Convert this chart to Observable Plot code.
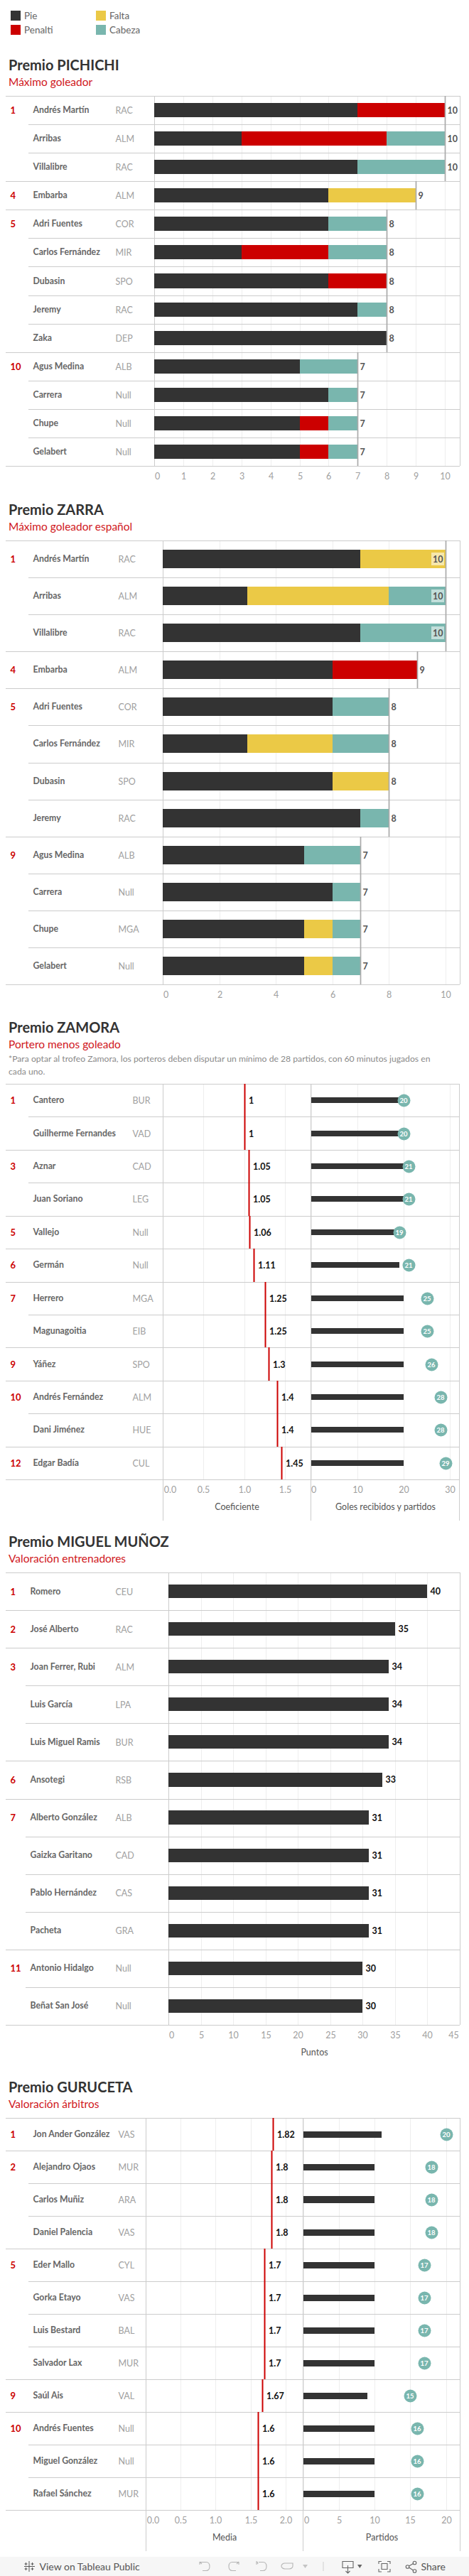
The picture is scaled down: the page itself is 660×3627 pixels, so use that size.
<!DOCTYPE html>
<html lang="es">
<head>
<meta charset="utf-8">
<title>Premios LaLiga 2</title>
<script src="https://cdn.jsdelivr.net/npm/d3@7"></script>
<script src="https://cdn.jsdelivr.net/npm/@observablehq/plot@0.6"></script>
<style>
html,body{margin:0;padding:0;background:#fff;}
#page{position:relative;width:660px;height:3627px;overflow:hidden;font-family:Lato,sans-serif;}
#page svg.plot,#page svg{position:absolute;background:transparent;max-width:none;}
.t{position:absolute;white-space:nowrap;line-height:1;}
.title{left:12px;font-size:20px;font-weight:700;color:#333;}
.sub{left:12px;font-size:15.5px;font-weight:400;color:#d0161b;}
.note{left:12px;font-size:12.2px;font-weight:400;color:#8a8a8a;}
.leg{font-size:13.5px;color:#666;}
.sw{position:absolute;width:14px;height:14px;}
#bar{position:absolute;left:0;top:3600px;width:660px;height:27px;background:#f6f6f6;}
</style>
</head>
<body>
<div id="page"></div>
<script>
// ---------- Leyenda ----------
const goalTypes = ["Pie", "Penalti", "Falta", "Cabeza"];
const goalColors = ["#333333", "#cc0000", "#ebc946", "#79b6ae"];

// ---------- Premio PICHICHI ----------
const pichichiRanks = [1, null, null, 4, 5, null, null, null, null, 10, null, null, null];
const pichichiNames = ["Andrés Martín", "Arribas", "Villalibre", "Embarba", "Adri Fuentes", "Carlos Fernández", "Dubasin", "Jeremy", "Zaka", "Agus Medina", "Carrera", "Chupe", "Gelabert"];
const pichichiTeams = ["RAC", "ALM", "RAC", "ALM", "COR", "MIR", "SPO", "RAC", "DEP", "ALB", "Null", "Null", "Null"];
const pichichiPie = [7, 3, 7, 6, 6, 3, 6, 7, 8, 5, 6, 5, 5];
const pichichiPenalti = [3, 5, 0, 0, 0, 3, 2, 0, 0, 0, 0, 1, 1];
const pichichiFalta = [0, 0, 0, 3, 0, 0, 0, 0, 0, 0, 0, 0, 0];
const pichichiCabeza = [0, 2, 3, 0, 2, 2, 0, 1, 0, 2, 1, 1, 1];
const pichichiTicks = [0, 1, 2, 3, 4, 5, 6, 7, 8, 9, 10];

// ---------- Premio ZARRA ----------
const zarraRanks = [1, null, null, 4, 5, null, null, null, 9, null, null, null];
const zarraNames = ["Andrés Martín", "Arribas", "Villalibre", "Embarba", "Adri Fuentes", "Carlos Fernández", "Dubasin", "Jeremy", "Agus Medina", "Carrera", "Chupe", "Gelabert"];
const zarraTeams = ["RAC", "ALM", "RAC", "ALM", "COR", "MIR", "SPO", "RAC", "ALB", "Null", "MGA", "Null"];
const zarraPie = [7, 3, 7, 6, 6, 3, 6, 7, 5, 6, 5, 5];
const zarraPenalti = [0, 0, 0, 3, 0, 0, 0, 0, 0, 0, 0, 0];
const zarraFalta = [3, 5, 0, 0, 0, 3, 2, 0, 0, 0, 1, 1];
const zarraCabeza = [0, 2, 3, 0, 2, 2, 0, 1, 2, 1, 1, 1];
const zarraTicks = [0, 2, 4, 6, 8, 10];

// ---------- Premio ZAMORA ----------
const zamoraRanks = [1, null, 3, null, 5, 6, 7, null, 9, 10, null, 12];
const zamoraNames = ["Cantero", "Guilherme Fernandes", "Aznar", "Juan Soriano", "Vallejo", "Germán", "Herrero", "Magunagoitia", "Yáñez", "Andrés Fernández", "Dani Jiménez", "Edgar Badía"];
const zamoraTeams = ["BUR", "VAD", "CAD", "LEG", "Null", "Null", "MGA", "EIB", "SPO", "ALM", "HUE", "CUL"];
const zamoraCoef = [1, 1, 1.05, 1.05, 1.06, 1.11, 1.25, 1.25, 1.3, 1.4, 1.4, 1.45];
const zamoraGoles = [20, 20, 20, 20, 20, 19, 20, 20, 20, 20, 20, 20];
const zamoraPartidos = [20, 20, 21, 21, 19, 21, 25, 25, 26, 28, 28, 29];
const zamoraCoefTicks = [0, 0.5, 1, 1.5];
const zamoraGolesTicks = [0, 10, 20, 30];

// ---------- Premio MIGUEL MUÑOZ ----------
const munozRanks = [1, 2, 3, null, null, 6, 7, null, null, null, 11, null];
const munozNames = ["Romero", "José Alberto", "Joan Ferrer, Rubi", "Luis García", "Luis Miguel Ramis", "Ansotegi", "Alberto González", "Gaizka Garitano", "Pablo Hernández", "Pacheta", "Antonio Hidalgo", "Beñat San José"];
const munozTeams = ["CEU", "RAC", "ALM", "LPA", "BUR", "RSB", "ALB", "CAD", "CAS", "GRA", "Null", "Null"];
const munozPuntos = [40, 35, 34, 34, 34, 33, 31, 31, 31, 31, 30, 30];
const munozTicks = [0, 5, 10, 15, 20, 25, 30, 35, 40, 45];

// ---------- Premio GURUCETA ----------
const gurucetaRanks = [1, 2, null, null, 5, null, null, null, 9, 10, null, null];
const gurucetaNames = ["Jon Ander González", "Alejandro Ojaos", "Carlos Muñiz", "Daniel Palencia", "Eder Mallo", "Gorka Etayo", "Luis Bestard", "Salvador Lax", "Saúl Ais", "Andrés Fuentes", "Miguel González", "Rafael Sánchez"];
const gurucetaTeams = ["VAS", "MUR", "ARA", "VAS", "CYL", "VAS", "BAL", "MUR", "VAL", "Null", "Null", "MUR"];
const gurucetaMedia = [1.82, 1.8, 1.8, 1.8, 1.7, 1.7, 1.7, 1.7, 1.67, 1.6, 1.6, 1.6];
const gurucetaBarras = [11, 10, 10, 10, 10, 10, 10, 10, 9, 10, 10, 10];
const gurucetaPartidos = [20, 18, 18, 18, 17, 17, 17, 17, 15, 16, 16, 16];
const gurucetaMediaTicks = [0, 0.5, 1, 1.5, 2];
const gurucetaBarTicks = [0, 5, 10, 15, 20];

// ---------- Estilos ----------
const FONT = "Lato, sans-serif";
const RED = "#cc0000", LINE = "#cccccc", GRID = "#eeeeee", DARK = "#333333", TEAL = "#79b6ae", TOTAL = "#aaaaaa";
const page = document.getElementById("page");

function addText(cls, text, top, left) {
  const d = document.createElement("div");
  d.className = "t " + cls;
  d.textContent = text;
  d.style.top = top + "px";
  if (left != null) d.style.left = left + "px";
  page.appendChild(d);
  return d;
}
function addHead(title, sub, yT, yS) {
  addText("title", title, yT - 10);
  addText("sub", sub, yS - 8);
}

// Un panel: escala x e y propias, colocado en la página
function panel({svgLeft = 0, x0, x1, xMax, top, bodyH, n, below, marks}) {
  const marginLeft = x0 - svgLeft;
  const chart = Plot.plot({
    width: x1 + 1 - svgLeft,
    height: 1 + bodyH + below,
    marginLeft, marginRight: 1, marginTop: 1, marginBottom: below,
    style: {fontFamily: FONT, background: "transparent", overflow: "visible"},
    x: {domain: [0, xMax], axis: null, round: true},
    y: {domain: [0, n], range: [1, 1 + bodyH], axis: null, round: true},
    color: {domain: goalTypes, range: goalColors},
    marks
  });
  chart.style.left = svgLeft + "px";
  chart.style.top = (top - 1) + "px";
  page.appendChild(chart);
}

// Rejilla vertical y eje inferior con etiquetas desplazadas en los extremos
function gridAxis(ticks, n, shift = {}, fmt = d => String(d)) {
  const plain = ticks.filter(t => !(t in shift));
  const style = {anchor: "bottom", tickSize: 0, tickPadding: 10, label: null, tickFormat: fmt, fontSize: 12.5, fontWeight: 400, color: "#a0a0a0"};
  return [
    Plot.ruleX(ticks, {y1: 0, y2: n, stroke: GRID}),
    Plot.axisX(plain, style),
    ...Object.keys(shift).map(k => Plot.axisX([+k], {...style, dx: shift[k]}))
  ];
}
function separators(n, ranks, fullInset, indentInset) {
  const starts = d3.range(n).filter(i => ranks && ranks[i] != null).concat([n]);
  const rest = d3.range(n).filter(i => !starts.includes(i));
  return [
    Plot.ruleY(starts, {stroke: LINE, insetLeft: -fullInset}),
    Plot.ruleY(rest, {stroke: LINE, insetLeft: -indentInset})
  ];
}
function labelMarks(names, teams, ranks, x0, nameX, teamX) {
  const rows = names.map((name, i) => ({i, name, team: teams[i], rank: ranks[i]}));
  const base = {y: d => d.i + 0.5, frameAnchor: "left", textAnchor: "start"};
  return [
    Plot.text(rows.filter(d => d.rank != null), {...base, text: d => String(d.rank), dx: 14 - x0, fill: RED, fontWeight: 700, fontSize: 13}),
    Plot.text(rows, {...base, text: "name", dx: nameX - x0, fill: "#666666", fontWeight: 700, fontSize: 12.3}),
    Plot.text(rows, {...base, text: "team", dx: teamX - x0, fill: "#a0a0a0", fontWeight: 400, fontSize: 12.5})
  ];
}
function axisTitle(label) {
  return Plot.text([label], {frameAnchor: "bottom", text: d => d, dy: 42, fill: "#555555", fontSize: 12.5});
}
function segments(series) {
  return goalTypes.flatMap(type => series[type].map((v, i) => ({i, type, v}))).filter(d => d.v > 0);
}

// ---------- Leyenda ----------
[["Pie", 15, 15, 34], ["Penalti", 15, 35, 34], ["Falta", 135, 15, 154], ["Cabeza", 135, 35, 154]].forEach(([name, sx, sy, tx]) => {
  const s = document.createElement("div");
  s.className = "sw";
  s.style.left = sx + "px"; s.style.top = sy + "px";
  s.style.background = goalColors[goalTypes.indexOf(name)];
  page.appendChild(s);
  addText("leg", name, sy + 0.5, tx);
});

// ---------- PICHICHI ----------
addHead("Premio PICHICHI", "Máximo goleador", 91, 116);
{
  const n = pichichiNames.length, x0 = 217;
  const segs = segments({Pie: pichichiPie, Penalti: pichichiPenalti, Falta: pichichiFalta, Cabeza: pichichiCabeza});
  const totals = pichichiPie.map((p, i) => ({i, v: p + pichichiPenalti[i] + pichichiFalta[i] + pichichiCabeza[i]}));
  panel({x0, x1: 647, xMax: 10.51, top: 135, bodyH: 521, n, below: 26, marks: [
    ...gridAxis(pichichiTicks, n, {0: 4}),
    ...separators(n, pichichiRanks, x0 - 8, x0 - 40),
    Plot.ruleX([0, 10.51], {y1: 0, y2: n, stroke: LINE}),
    Plot.rectX(segs, {x: "v", y1: d => d.i + 0.25, y2: d => d.i + 0.75, fill: "type"}),
    Plot.ruleX(totals, {x: "v", y1: d => d.i, y2: d => d.i + 1, stroke: TOTAL, strokeWidth: 1.7}),
    Plot.text(totals, {x: "v", y: d => d.i + 0.5, text: d => String(d.v), dx: 3, textAnchor: "start", fill: "#555555", fontWeight: 700, fontSize: 12.5}),
    ...labelMarks(pichichiNames, pichichiTeams, pichichiRanks, x0, 46, 162)
  ]});
}

// ---------- ZARRA ----------
addHead("Premio ZARRA", "Máximo goleador español", 717, 742);
{
  const n = zarraNames.length, x0 = 229;
  const segs = segments({Pie: zarraPie, Penalti: zarraPenalti, Falta: zarraFalta, Cabeza: zarraCabeza});
  const totals = zarraPie.map((p, i) => ({i, v: p + zarraPenalti[i] + zarraFalta[i] + zarraCabeza[i]}));
  const outside = totals.filter(d => d.v < 10), inside = totals.filter(d => d.v >= 10);
  panel({x0, x1: 647, xMax: 10.51, top: 761, bodyH: 625, n, below: 26, marks: [
    ...gridAxis(zarraTicks, n, {0: 4}),
    ...separators(n, zarraRanks, x0 - 8, x0 - 40),
    Plot.ruleX([0, 10.51], {y1: 0, y2: n, stroke: LINE}),
    Plot.rectX(segs, {x: "v", y1: d => d.i + 0.25, y2: d => d.i + 0.75, fill: "type"}),
    Plot.ruleX(totals, {x: "v", y1: d => d.i, y2: d => d.i + 1, stroke: TOTAL, strokeWidth: 1.7}),
    Plot.rect(inside, {x1: d => d.v - 0.5, x2: d => d.v - 0.05, y1: d => d.i + 0.33, y2: d => d.i + 0.67, fill: "#ffffff", fillOpacity: 0.55}),
    Plot.text(outside, {x: "v", y: d => d.i + 0.5, text: d => String(d.v), dx: 3, textAnchor: "start", fill: "#555555", fontWeight: 700, fontSize: 12.5}),
    Plot.text(inside, {x: "v", y: d => d.i + 0.5, text: d => String(d.v), dx: -4, textAnchor: "end", fill: "#555555", fontWeight: 700, fontSize: 12.5}),
    ...labelMarks(zarraNames, zarraTeams, zarraRanks, x0, 46, 166)
  ]});
}

// Panel doble: coeficiente y barra con círculo
function doublePanel({names, teams, ranks, coef, bars, dots, top, bodyH, x0, xMid, xMidR, x1, xMaxL, xMaxR, ticksL, ticksR, shiftL, shiftR, titleL, titleR, teamX, barH}) {
  const n = names.length;
  const ext = 58 / (bodyH / n);
  const c = coef.map((v, i) => ({i, v}));
  const b = bars.map((v, i) => ({i, v, d: dots[i]}));
  const half = barH / 2 / (bodyH / n);
  panel({x0, x1: xMid, xMax: xMaxL, top, bodyH, n, below: 60, marks: [
    ...gridAxis(ticksL, n, shiftL, d => d.toFixed(1)),
    ...separators(n, ranks, x0 - 8, x0 - 40),
    Plot.ruleX([0], {y1: 0, y2: n + ext, stroke: LINE}),
    Plot.ruleX(c, {x: "v", y1: d => d.i, y2: d => d.i + 1, stroke: RED, strokeWidth: 2}),
    Plot.text(c, {x: "v", y: d => d.i + 0.5, text: d => String(d.v), dx: 5.5, textAnchor: "start", fill: "#111111", fontWeight: 700, fontSize: 12.5}),
    ...labelMarks(names, teams, ranks, x0, 46, teamX),
    axisTitle(titleL)
  ]});
  panel({svgLeft: xMid - 1, x0: xMidR, x1, xMax: xMaxR, top, bodyH, n, below: 60, marks: [
    ...gridAxis(ticksR, n, shiftR),
    Plot.ruleY(d3.range(n + 1), {stroke: LINE, insetLeft: -(xMidR - xMid)}),
    Plot.ruleX([0], {y1: 0, y2: n + ext, stroke: LINE, dx: xMid - xMidR}),
    Plot.ruleX([xMaxR], {y1: 0, y2: n + ext, stroke: LINE}),
    Plot.rectX(b, {x: "v", y1: d => d.i + 0.5 - half, y2: d => d.i + 0.5 + half, fill: DARK}),
    Plot.dot(b, {x: "d", y: d => d.i + 0.5, r: 9, fill: TEAL, stroke: "none"}),
    Plot.text(b, {x: "d", y: d => d.i + 0.5, text: d => String(d.d), fill: "#ffffff", fontSize: 9.5, fontWeight: 700, dx: -0.5}),
    axisTitle(titleR)
  ]});
}

// ---------- ZAMORA ----------
addHead("Premio ZAMORA", "Portero menos goleado", 1446, 1471);
addText("note", "*Para optar al trofeo Zamora, los porteros deben disputar un mínimo de 28 partidos, con 60 minutos jugados en", 1485);
addText("note", "cada uno.", 1503);
doublePanel({names: zamoraNames, teams: zamoraTeams, ranks: zamoraRanks, coef: zamoraCoef, bars: zamoraGoles, dots: zamoraPartidos,
  top: 1526, bodyH: 557, x0: 229, xMid: 437, xMidR: 438, x1: 646, xMaxL: 1.81, xMaxR: 31.95,
  ticksL: zamoraCoefTicks, ticksR: zamoraGolesTicks, shiftL: {0: 10}, shiftR: {0: 3},
  titleL: "Coeficiente", titleR: "Goles recibidos y partidos", teamX: 186, barH: 8});

// ---------- MIGUEL MUÑOZ ----------
addHead("Premio MIGUEL MUÑOZ", "Valoración entrenadores", 2170, 2195);
{
  const n = munozNames.length, x0 = 237;
  const rows = munozPuntos.map((v, i) => ({i, v}));
  panel({x0, x1: 647, xMax: 45, top: 2214, bodyH: 637, n, below: 52, marks: [
    ...gridAxis(munozTicks, n, {0: 4, 45: -9}),
    ...separators(n, munozRanks, x0 - 8, x0 - 36),
    Plot.ruleX([0, 45], {y1: 0, y2: n, stroke: LINE}),
    Plot.rectX(rows, {x: "v", y1: d => d.i + 0.32, y2: d => d.i + 0.68, fill: DARK}),
    Plot.text(rows, {x: "v", y: d => d.i + 0.49, text: d => String(d.v), dx: 4, textAnchor: "start", fill: "#111111", fontWeight: 700, fontSize: 12.5}),
    ...labelMarks(munozNames, munozTeams, munozRanks, x0, 42, 162),
    axisTitle("Puntos")
  ]});
}

// ---------- GURUCETA ----------
addHead("Premio GURUCETA", "Valoración árbitros", 2938, 2963);
doublePanel({names: gurucetaNames, teams: gurucetaTeams, ranks: gurucetaRanks, coef: gurucetaMedia, bars: gurucetaBarras, dots: gurucetaPartidos,
  top: 2982, bodyH: 552, x0: 205, xMid: 426, xMidR: 427, x1: 647, xMaxL: 2.245, xMaxR: 21.94,
  ticksL: gurucetaMediaTicks, ticksR: gurucetaBarTicks, shiftL: {0: 10}, shiftR: {0: 4},
  titleL: "Media", titleR: "Partidos", teamX: 166, barH: 9});

// ---------- Barra inferior ----------
const bar = document.createElement("div");
bar.id = "bar";
bar.innerHTML = `
<svg width="660" height="27" viewBox="0 0 660 27" style="left:0;top:0" fill="none">
  <g stroke="#555" stroke-width="1">
    <path d="M41 6v15M34 13.5h15M36.500 8v4M34.500 10h4M45.500 8v4M43.500 10h4M36.500 15v4M34.500 17h4M45.500 15v4M43.500 17h4"/>
  </g>
  <g stroke="#b5b5b5" stroke-width="1.1">
    <path d="M281 7l3 3M281 7v4M282 7.500h8c4 0 5 3 5 6s-1 6-5 6h-5"/>
    <path d="M336 7l-3 3M336 7v4M335 7.500h-8c-4 0-5 3-5 6s1 6 5 6h5"/>
    <path d="M361 6v5M363 10l-1-3M364 7.500h6c4 0 5 3 5 6s-1 6-5 6h-4"/>
    <path d="M412 10v-1h-11c-3 0-5 2-5 4s2 4 5 4h6c3 0 5-2 5-4z"/>
  </g>
  <path d="M426 11h7l-3.500 5z" fill="#c4c4c4"/>
  <path d="M455 7v13" stroke="#cfcfcf"/>
  <g stroke="#666" stroke-width="1.1">
    <path d="M482 6.500h15v9h-15zM489.500 12v11M486.500 20l3 3 3-3"/>
    <path d="M533 10V6.500h4M549 10V6.500h-4M533 17v4h4M549 17v4h-4M537 9.500h8v8h-8z"/>
    <circle cx="573.500" cy="14" r="2.300"/><circle cx="583.500" cy="8.500" r="2.300"/><circle cx="583.500" cy="20" r="2.300"/>
    <path d="M575.500 13l6-3.500M575.500 15l6 4"/>
  </g>
  <path d="M503 11h6.500l-3.250 5z" fill="#666"/>
</svg>`;
page.appendChild(bar);
const tb = document.createElement("div");
tb.className = "t";
tb.textContent = "View on Tableau Public";
tb.style.cssText = "left:55.5px;top:6.5px;font-size:14px;color:#555;";
bar.appendChild(tb);
const sh = document.createElement("div");
sh.className = "t";
sh.textContent = "Share";
sh.style.cssText = "left:592.5px;top:6.5px;font-size:14px;color:#555;";
bar.appendChild(sh);
</script>
</body>
</html>
